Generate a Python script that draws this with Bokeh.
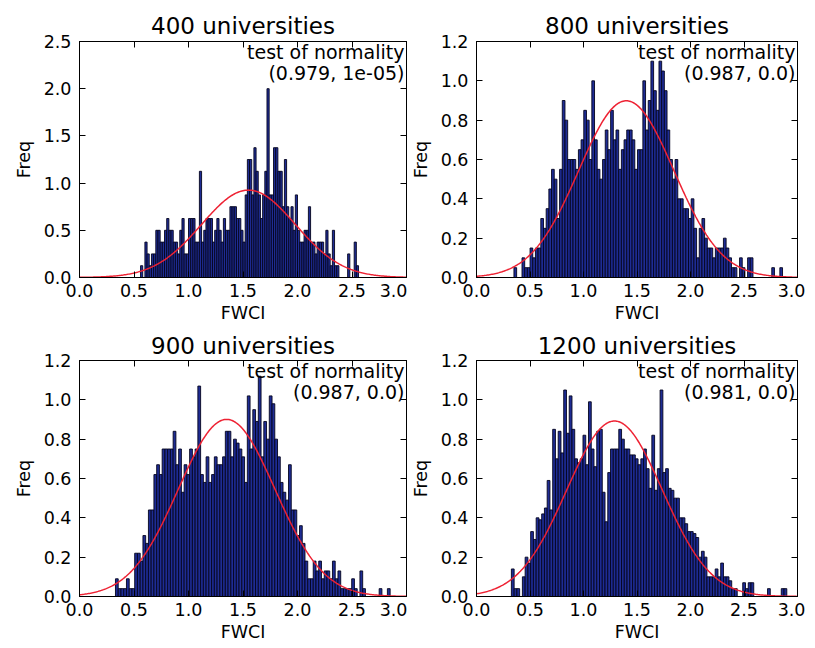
import numpy as np
from bokeh.plotting import figure
from bokeh.layouts import column, row
from bokeh.models import LinearAxis, FixedTicker, Label, Range1d, NumeralTickFormatter
from bokeh.embed import file_html
from bokeh.resources import INLINE

titles = ["400 universities", "800 universities", "900 universities", "1200 universities"]
normality = ["(0.979, 1e-05)", "(0.987, 0.0)", "(0.987, 0.0)", "(0.981, 0.0)"]
bin_lo = [0.56, 0.35, 0.33, 0.326]
bin_hi = [2.56, 2.86, 2.85, 2.90]
fit_mean = [1.55, 1.40, 1.35, 1.29]
fit_std = [0.431, 0.444, 0.443, 0.447]

freq_400 = [
    0.125, 0.0, 0.375, 0.25, 0.125, 0.25, 0.25, 0.5, 0.5, 0.375,
    0.375, 0.5, 0.625, 0.5, 0.5, 0.375, 0.375, 0.25, 0.5, 0.625,
    0.25, 0.25, 0.625, 0.625, 0.625, 0.375, 0.375, 1.125, 0.375, 0.5,
    0.625, 0.625, 0.625, 0.375, 0.5, 0.625, 0.5, 0.375, 0.625, 0.5,
    0.5, 0.75, 0.75, 0.75, 0.625, 0.625, 0.5, 0.375, 0.875, 1.25,
    1.25, 0.875, 1.375, 1.125, 0.875, 0.625, 0.875, 1.125, 2.0, 0.875,
    0.875, 1.375, 1.375, 1.125, 1.125, 0.75, 1.25, 0.75, 0.625, 0.75,
    0.5, 0.875, 0.5, 0.375, 0.375, 0.5, 0.5, 0.75, 0.375, 0.375,
    0.25, 0.375, 0.375, 0.375, 0.25, 0.5, 0.25, 0.125, 0.5, 0.125,
    0.125, 0.0, 0.0, 0.0, 0.0, 0.25, 0.0, 0.0, 0.375, 0.125,
]
freq_800 = [
    0.05, 0.0, 0.0, 0.1, 0.05, 0.05, 0.15, 0.1, 0.15, 0.15,
    0.3, 0.25, 0.35, 0.45, 0.55, 0.5, 0.3, 0.55, 0.9, 0.8,
    0.6, 0.6, 0.6, 0.55, 0.65, 0.7, 0.85, 0.8, 0.6, 1.0,
    0.7, 0.55, 0.5, 0.6, 0.75, 0.65, 0.85, 0.7, 0.75, 0.55,
    0.65, 0.7, 0.75, 0.75, 0.7, 0.55, 0.65, 0.65, 1.0, 0.75,
    0.9, 1.1, 0.95, 0.85, 1.1, 1.05, 0.95, 0.75, 0.6, 0.5,
    0.6, 0.4, 0.4, 0.35, 0.35, 0.3, 0.4, 0.25, 0.1, 0.25,
    0.3, 0.2, 0.15, 0.15, 0.1, 0.15, 0.15, 0.15, 0.2, 0.15,
    0.1, 0.05, 0.05, 0.0, 0.1, 0.05, 0.0, 0.1, 0.1, 0.0,
    0.0, 0.0, 0.0, 0.0, 0.0, 0.0, 0.05, 0.0, 0.0, 0.05,
]
freq_900 = [
    0.09, 0.04, 0.04, 0.04, 0.09, 0.04, 0.04, 0.22, 0.22, 0.18,
    0.31, 0.27, 0.44, 0.44, 0.62, 0.67, 0.62, 0.75, 0.75, 0.75,
    0.75, 0.84, 0.67, 0.75, 0.53, 0.67, 0.62, 0.75, 0.71, 0.75,
    1.07, 0.62, 0.58, 0.71, 0.58, 0.62, 0.71, 0.67, 0.67, 0.71,
    0.84, 0.84, 0.71, 0.8, 0.78, 0.75, 0.71, 0.58, 1.02, 0.75,
    0.95, 0.89, 1.12, 0.71, 0.89, 0.8, 1.02, 0.98, 0.8, 0.71,
    0.58, 0.53, 0.49, 0.67, 0.44, 0.44, 0.31, 0.36, 0.27, 0.18,
    0.09, 0.09, 0.18, 0.13, 0.18, 0.09, 0.13, 0.13, 0.09, 0.18,
    0.09, 0.13, 0.04, 0.04, 0.04, 0.04, 0.09, 0.04, 0.0, 0.13,
    0.04, 0.0, 0.0, 0.0, 0.0, 0.0, 0.04, 0.0, 0.0, 0.04,
]
freq_1200 = [
    0.14, 0.04, 0.04, 0.0, 0.1, 0.2, 0.17, 0.33, 0.29, 0.4,
    0.39, 0.42, 0.45, 0.59, 0.44, 0.85, 0.7, 0.84, 0.73, 1.05,
    0.83, 1.02, 0.85, 0.7, 0.68, 0.7, 0.82, 0.67, 0.99, 0.75,
    0.66, 0.84, 0.85, 0.53, 0.38, 0.63, 0.75, 0.75, 0.75, 0.85,
    0.8, 0.75, 0.75, 0.72, 0.72, 0.7, 0.67, 0.7, 0.75, 0.65,
    0.55, 0.82, 0.54, 0.65, 1.05, 0.63, 0.65, 0.55, 0.54, 0.5,
    0.5, 0.4, 0.4, 0.37, 0.33, 0.33, 0.32, 0.3, 0.2, 0.23,
    0.2, 0.1, 0.1, 0.1, 0.14, 0.1, 0.17, 0.1, 0.1, 0.08,
    0.04, 0.04, 0.0, 0.0, 0.07, 0.04, 0.07, 0.07, 0.0, 0.0,
    0.0, 0.0, 0.0, 0.04, 0.0, 0.0, 0.0, 0.0, 0.04, 0.04,
]
freqs = [freq_400, freq_800, freq_900, freq_1200]

x_ticks = [0.0, 0.5, 1.0, 1.5, 2.0, 2.5, 3.0]
y_ticks_400 = [0.0, 0.5, 1.0, 1.5, 2.0, 2.5]
y_ticks_other = [0.0, 0.2, 0.4, 0.6, 0.8, 1.0, 1.2]
y_max = [2.5, 1.2, 1.2, 1.2]
y_ticks = [y_ticks_400, y_ticks_other, y_ticks_other, y_ticks_other]

FONT = "DejaVu Sans"
BAR_FILL = "#1e2c94"
BAR_LINE = "#05051e"
CURVE = "#ee2233"

# width, height, border left, right, top, bottom, title standoff
geom = [
    (407, 329, 79, 1, 41, 52, 5),
    (398, 329, 64, 8, 41, 52, 5),
    (407, 317, 79, 1, 31, 50, 3),
    (398, 317, 64, 8, 31, 50, 3),
]


def style_axis(ax, ticks, show_labels, lab_standoff, axlab_standoff):
    ax.ticker = FixedTicker(ticks=ticks)
    ax.formatter = NumeralTickFormatter(format="0.0")
    ax.major_tick_in = 6
    ax.major_tick_out = 0
    ax.minor_tick_line_color = None
    ax.axis_line_color = "black"
    ax.major_tick_line_color = "black"
    ax.major_label_text_font = FONT
    ax.axis_label_text_font = FONT
    ax.axis_label_text_font_style = "normal"
    ax.axis_label_text_color = "black"
    ax.axis_label_text_font_size = "17.5px"
    if show_labels:
        ax.major_label_text_color = "black"
        ax.major_label_text_font_size = "17.5px"
        ax.major_label_standoff = lab_standoff
        ax.axis_label_standoff = axlab_standoff
    else:
        ax.major_label_text_color = None
        ax.major_label_text_alpha = 0
        ax.major_label_text_font_size = "1px"
        ax.major_label_standoff = 0


panels = []
for k in range(4):
    w, h, bl, br, bt, bb, ts = geom[k]
    p = figure(width=w, height=h, x_range=Range1d(0, 3), y_range=Range1d(0, y_max[k]),
               output_backend="svg", toolbar_location=None, title=titles[k],
               min_border_left=bl, min_border_right=br, min_border_top=bt, min_border_bottom=bb)
    p.grid.visible = False
    p.outline_line_color = "black"
    p.background_fill_color = "white"
    p.border_fill_color = "white"
    p.title.text_font = FONT
    p.title.text_font_style = "normal"
    p.title.text_font_size = "23px"
    p.title.text_color = "black"
    p.title.align = "center"
    p.title.standoff = ts

    freq = freqs[k]
    edges = np.linspace(bin_lo[k], bin_hi[k], len(freq) + 1)
    p.quad(left=edges[:-1], right=edges[1:], bottom=0, top=freq,
           fill_color=BAR_FILL, line_color=BAR_LINE, line_width=0.9)

    xs = np.linspace(0, 3, 301)
    pdf = np.exp(-0.5 * ((xs - fit_mean[k]) / fit_std[k]) ** 2) / (fit_std[k] * np.sqrt(2 * np.pi))
    p.line(xs, pdf, line_color=CURVE, line_width=1.5)

    style_axis(p.xaxis[0], x_ticks, True, 6, 3)
    style_axis(p.yaxis[0], y_ticks[k], True, 8, 7)
    p.xaxis[0].axis_label = "FWCI"
    p.yaxis[0].axis_label = "Freq"

    top_ax = LinearAxis()
    style_axis(top_ax, x_ticks, False, 0, 0)
    p.add_layout(top_ax, "above")
    right_ax = LinearAxis()
    style_axis(right_ax, y_ticks[k], False, 0, 0)
    p.add_layout(right_ax, "right")

    p.add_layout(Label(x=3.0, y=y_max[k], x_offset=-2, y_offset=1, text="test of normality",
                       text_align="right", text_baseline="top", text_font=FONT,
                       text_font_size="19px", text_color="black"))
    p.add_layout(Label(x=3.0, y=y_max[k], x_offset=-2, y_offset=-20, text=normality[k],
                       text_align="right", text_baseline="top", text_font=FONT,
                       text_font_size="19px", text_color="black"))
    panels.append(p)

layout = column(row(panels[0], panels[1]), row(panels[2], panels[3]))
open("out.html", "w").write(file_html(layout, INLINE))
